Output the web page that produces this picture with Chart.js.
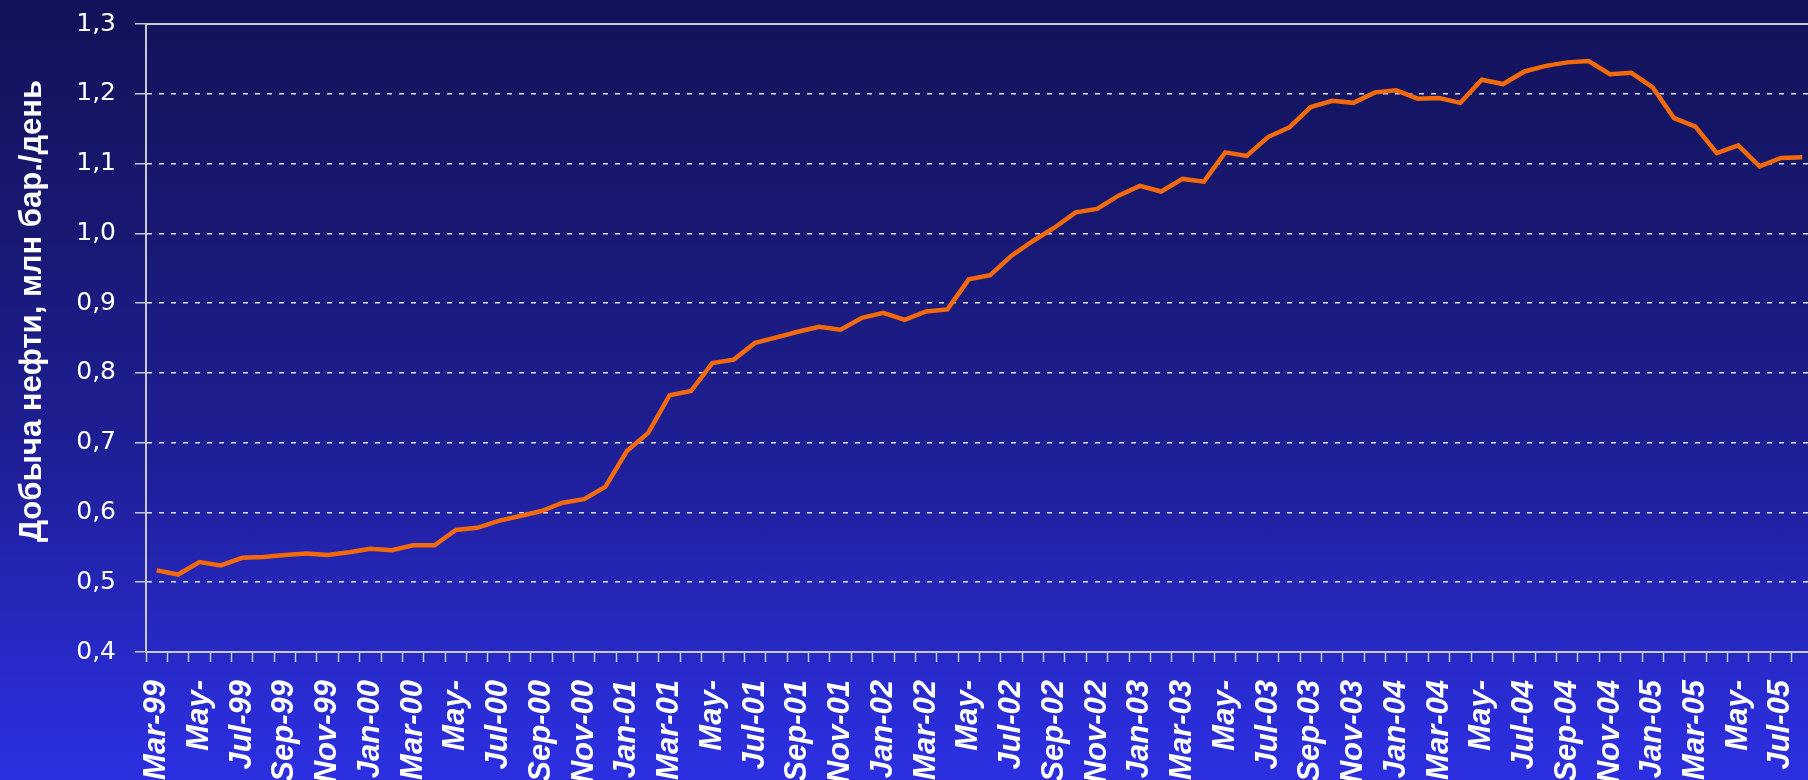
<!DOCTYPE html>
<html>
<head>
<meta charset="utf-8">
<script src="https://cdn.jsdelivr.net/npm/chart.js@4.4.1/dist/chart.umd.min.js"></script>
<style>
html,body{margin:0;padding:0;width:1808px;height:780px;overflow:hidden;
background:linear-gradient(to bottom,#121259 0%,#181873 30%,#1f1f99 60%,#2a2dd6 92%,#2c2fe0 100%);}
canvas{display:block}
</style>
</head>
<body>
<canvas id="c" width="1816" height="780"></canvas>
<script>
const months = [
"Mar-99","Apr-99","May-99","Jun-99","Jul-99","Aug-99","Sep-99","Oct-99","Nov-99","Dec-99",
"Jan-00","Feb-00","Mar-00","Apr-00","May-00","Jun-00","Jul-00","Aug-00","Sep-00","Oct-00","Nov-00","Dec-00",
"Jan-01","Feb-01","Mar-01","Apr-01","May-01","Jun-01","Jul-01","Aug-01","Sep-01","Oct-01","Nov-01","Dec-01",
"Jan-02","Feb-02","Mar-02","Apr-02","May-02","Jun-02","Jul-02","Aug-02","Sep-02","Oct-02","Nov-02","Dec-02",
"Jan-03","Feb-03","Mar-03","Apr-03","May-03","Jun-03","Jul-03","Aug-03","Sep-03","Oct-03","Nov-03","Dec-03",
"Jan-04","Feb-04","Mar-04","Apr-04","May-04","Jun-04","Jul-04","Aug-04","Sep-04","Oct-04","Nov-04","Dec-04",
"Jan-05","Feb-05","Mar-05","Apr-05","May-05","Jun-05","Jul-05","Aug-05"
];

const tickLabels = [
"Mar-99","","May-","","Jul-99","","Sep-99","","Nov-99","",
"Jan-00","","Mar-00","","May-","","Jul-00","","Sep-00","","Nov-00","",
"Jan-01","","Mar-01","","May-","","Jul-01","","Sep-01","","Nov-01","",
"Jan-02","","Mar-02","","May-","","Jul-02","","Sep-02","","Nov-02","",
"Jan-03","","Mar-03","","May-","","Jul-03","","Sep-03","","Nov-03","",
"Jan-04","","Mar-04","","May-","","Jul-04","","Sep-04","","Nov-04","",
"Jan-05","","Mar-05","","May-","","Jul-05",""
];

const production = [
0.517,0.511,0.529,0.524,0.535,0.536,0.539,0.541,0.539,0.543,
0.548,0.546,0.553,0.553,0.575,0.578,0.588,0.595,0.602,0.614,0.619,0.637,
0.688,0.714,0.768,0.774,0.814,0.819,0.843,0.851,0.859,0.866,0.862,0.879,
0.886,0.876,0.888,0.891,0.934,0.940,0.968,0.989,1.008,1.030,1.035,1.054,
1.068,1.060,1.078,1.074,1.116,1.111,1.138,1.152,1.181,1.190,1.187,1.202,
1.205,1.193,1.194,1.187,1.220,1.214,1.232,1.240,1.245,1.247,1.228,1.230,
1.209,1.165,1.153,1.115,1.126,1.096,1.108,1.109
];

const yMin = 0.4, yMax = 1.3, yStep = 0.1;
const yTitle = "Добыча нефти, млн бар./день";

const axisGray = "#c8c8d2";

const decorPlugin = {
  id: "decor",
  afterDraw(chart) {
    const c = chart.ctx, a = chart.chartArea;
    c.save();
    c.strokeStyle = axisGray;
    c.lineWidth = 2;
    c.beginPath();
    c.moveTo(a.left, a.top);
    c.lineTo(a.right, a.top);
    c.stroke();
    c.translate(41, 311);
    c.rotate(-Math.PI / 2);
    c.font = 'bold 31px "Liberation Sans", Arial, sans-serif';
    c.fillStyle = "#ffffff";
    c.textAlign = "center";
    c.textBaseline = "alphabetic";
    c.fillText(yTitle, 0, 0);
    c.restore();
  }
};

new Chart(document.getElementById("c"), {
  type: "line",
  data: {
    labels: months,
    datasets: [{
      data: production,
      borderColor: "#f26a0c",
      borderWidth: 4.5,
      pointRadius: 0,
      tension: 0,
      fill: false
    }]
  },
  options: {
    responsive: false,
    animation: false,
    devicePixelRatio: 1,
    layout: { padding: { left: 0, right: 3, top: 24, bottom: 0 } },
    plugins: { legend: { display: false }, tooltip: { enabled: false } },
    scales: {
      x: {
        type: "category",
        offset: true,
        afterFit(scale) {
          scale.height = 128;
          scale.paddingLeft = 0; scale.paddingRight = 0;
          scale.paddingTop = 0; scale.paddingBottom = 0;
        },
        grid: {
          offset: true,
          drawOnChartArea: false,
          drawTicks: true,
          tickLength: 10,
          tickColor: axisGray,
          tickWidth: 1.5
        },
        border: { display: true, color: axisGray, width: 2 },
        ticks: {
          autoSkip: false,
          maxRotation: 90,
          minRotation: 90,
          padding: 18,
          color: "#ffffff",
          font: { family: '"Liberation Sans", Arial, sans-serif', size: 31, weight: "bold", style: "italic" },
          callback: (v, i) => tickLabels[i]
        }
      },
      y: {
        min: yMin,
        max: yMax,
        afterFit(scale) {
          scale.width = 146;
          scale.paddingTop = 0; scale.paddingBottom = 0;
          scale.paddingLeft = 0; scale.paddingRight = 0;
        },
        grid: {
          color: (ctx) => (ctx.tick && ctx.tick.value >= yMax - 1e-9) ? "rgba(0,0,0,0)" : "rgba(235,235,245,0.95)",
          lineWidth: 1.5,
          drawTicks: true,
          tickLength: 11,
          tickColor: axisGray,
          tickWidth: 1.5,
          tickBorderDash: [100, 0]
        },
        border: { display: true, color: axisGray, width: 2, dash: [5, 7] },
        ticks: {
          stepSize: yStep,
          padding: 19,
          color: "#ffffff",
          font: { family: '"DejaVu Sans", sans-serif', size: 25 },
          callback: (v) => v.toFixed(1).replace(".", ",")
        }
      }
    }
  },
  plugins: [decorPlugin]
});
</script>
</body>
</html>
